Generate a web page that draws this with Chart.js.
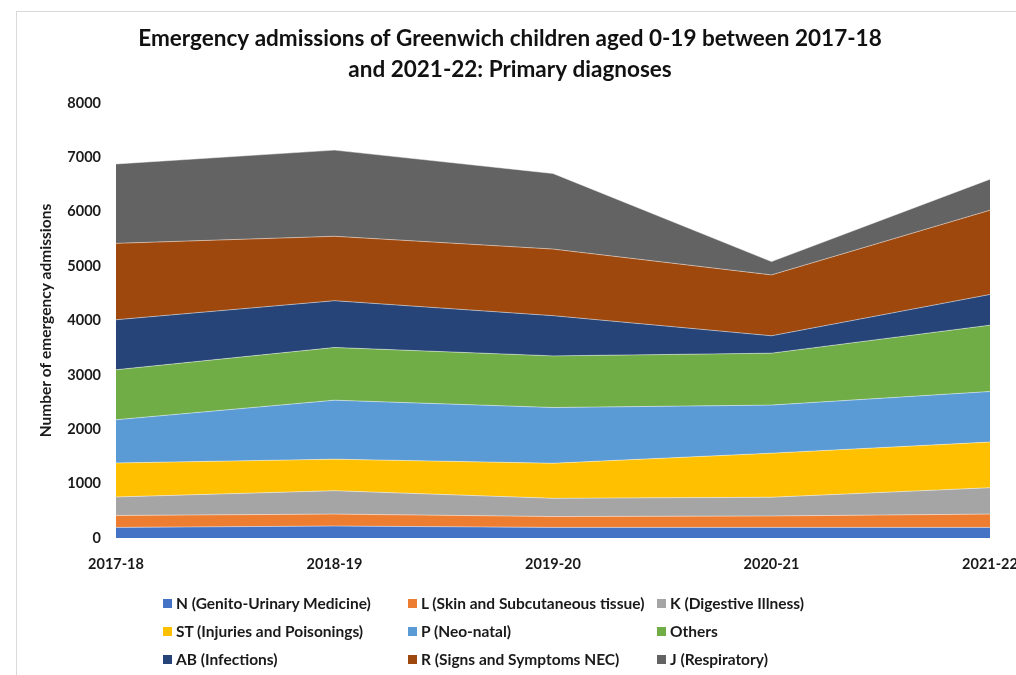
<!DOCTYPE html>
<html>
<head>
<meta charset="utf-8">
<title>Emergency admissions - primary diagnoses</title>
<script src="https://cdn.jsdelivr.net/npm/chart.js@4.4.1/dist/chart.umd.min.js"></script>
<style>
  html, body { margin: 0; padding: 0; background: #fff; overflow: hidden; }
  #wrap { position: relative; width: 1016px; height: 675px; overflow: hidden; }
  #frame {
    position: absolute; left: 16px; top: 11px; width: 1100px; height: 700px;
    border-left: 1px solid #d9d9d9; border-top: 1px solid #d9d9d9;
  }
  #chart { position: absolute; left: 0; top: 0; }
  .lg-item {
    position: absolute; display: flex; align-items: center; white-space: nowrap;
    font: bold 15.5px Lato, sans-serif; color: #1a1a1a;
  }
  .lg-box { width: 9px; height: 9px; margin-right: 4px; }
</style>
</head>
<body>
<div id="wrap">
  <div id="frame"></div>
  <canvas id="chart" width="1050" height="675"></canvas>
  <div id="legend"></div>
</div>
<script>
const years = ["2017-18", "2018-19", "2019-20", "2020-21", "2021-22"];

// admissions per primary diagnosis group, stacked bottom to top
const genitoUrinary = [195, 220, 195, 195, 195];
const skin = [220, 220, 200, 210, 245];
const digestive = [340, 430, 335, 345, 485];
const injuries = [625, 580, 645, 810, 840];
const neoNatal = [795, 1085, 1025, 885, 930];
const others = [920, 970, 950, 955, 1220];
const infections = [920, 860, 740, 320, 565];
const signsSymptoms = [1405, 1185, 1225, 1120, 1550];
const respiratory = [1460, 1585, 1390, 245, 570];

const seriesNames = [
  "N (Genito-Urinary Medicine)",
  "L (Skin and Subcutaneous tissue)",
  "K (Digestive Illness)",
  "ST (Injuries and Poisonings)",
  "P (Neo-natal)",
  "Others",
  "AB (Infections)",
  "R (Signs and Symptoms NEC)",
  "J (Respiratory)"
];
const seriesValues = [genitoUrinary, skin, digestive, injuries, neoNatal, others, infections, signsSymptoms, respiratory];
const seriesColors = ["#4472C4", "#ED7D31", "#A5A5A5", "#FFC000", "#5B9BD5", "#70AD47", "#264478", "#9E480E", "#636363"];

const yTicks = [0, 1000, 2000, 3000, 4000, 5000, 6000, 7000, 8000];

const FONT = "Lato, 'Open Sans', sans-serif";
const TEXT = "#1a1a1a";

const datasets = seriesNames.map(function (name, i) {
  return {
    label: name,
    data: seriesValues[i],
    backgroundColor: seriesColors[i],
    borderColor: "rgba(255,255,255,0.45)",
    borderWidth: 1,
    pointRadius: 0,
    pointHoverRadius: 0,
    tension: 0,
    fill: i === 0 ? "origin" : "-1"
  };
});

const chart = new Chart(document.getElementById("chart"), {
  type: "line",
  data: { labels: years, datasets: datasets },
  options: {
    responsive: false,
    animation: false,
    events: [],
    layout: { padding: { left: 30, right: 60, top: 0, bottom: 97 } },
    plugins: {
      legend: { display: false },
      tooltip: { enabled: false },
      title: {
        display: true,
        text: [
          "Emergency admissions of Greenwich children aged 0-19 between 2017-18",
          "and 2021-22: Primary diagnoses"
        ],
        color: "#111",
        font: { family: FONT, size: 22.5, weight: "bold", lineHeight: 1.38 },
        padding: { top: 23, bottom: 18 }
      }
    },
    scales: {
      x: {
        offset: false,
        grid: { display: false, drawTicks: false },
        border: { display: false },
        ticks: {
          color: TEXT,
          padding: 18,
          maxRotation: 0,
          font: { family: FONT, size: 14.5, weight: "bold" }
        },
        afterFit: function (scale) { scale.height = 40; }
      },
      y: {
        stacked: true,
        min: 0,
        max: 8000,
        afterBuildTicks: function (scale) {
          scale.ticks = yTicks.map(function (v) { return { value: v }; });
        },
        grid: { display: false, drawTicks: false },
        border: { display: false },
        ticks: {
          color: TEXT,
          padding: 15,
          font: { family: FONT, size: 14.5, weight: "bold" },
          callback: function (value) { return String(value); }
        },
        title: {
          display: true,
          text: "Number of emergency admissions",
          color: TEXT,
          font: { family: FONT, size: 15.5, weight: "bold" },
          padding: { top: 7, bottom: 0 }
        },
        afterFit: function (scale) { scale.width = 86; }
      }
    }
  }
});

// three-column legend under the plot
const legendEl = document.getElementById("legend");
const colX = [163, 408, 657];
const rowY = [594, 622, 650];
chart.data.datasets.forEach(function (ds, i) {
  const item = document.createElement("div");
  item.className = "lg-item";
  item.style.left = colX[i % 3] + "px";
  item.style.top = rowY[Math.floor(i / 3)] + "px";
  const box = document.createElement("span");
  box.className = "lg-box";
  box.style.background = ds.backgroundColor;
  const label = document.createElement("span");
  label.textContent = ds.label;
  item.appendChild(box);
  item.appendChild(label);
  legendEl.appendChild(item);
});
</script>
</body>
</html>
